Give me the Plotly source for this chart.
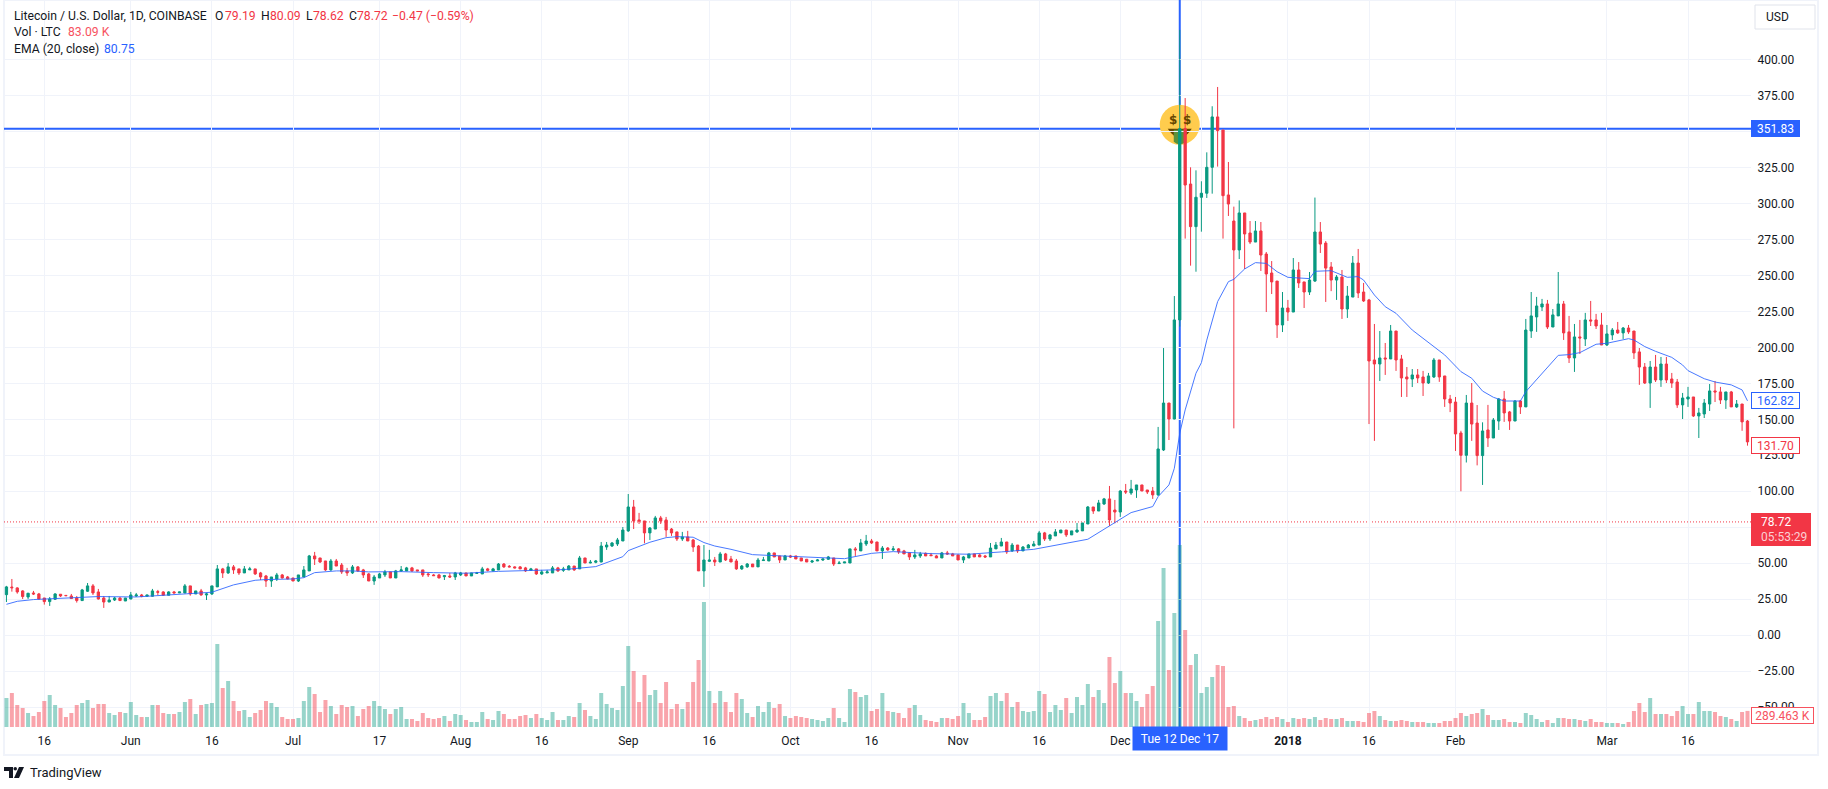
import pandas as pd
import plotly.graph_objects as go

# daily candles, 2017-05-09 -> 2018-03-27
FIRST_DAY = "2017-05-09"
OPEN = [
    28.2,33.5,32.9,30.8,26.6,29.4,28.7,25.9,23.4,25, 28.5,27.7,27.3,25.9,24.1,30.6,34.3,30.1,25.9,23.1,
    24.5,25.9,23.8,25.2,27.3,28,27.1,27.1,30.3,30.1, 27.8,30.1,29.4,29.4,34.3,28.7,30.8,28,28.7,33.6,
    46.1,43.3,47.5,46.1,43.3,45.4,46.1,43.3,41.2,37.7, 39.1,41.9,40.5,39.8,37.7,40.5,44.7,55.1,53.7,51.6,
    45.4,51.6,48.8,44.7,43.3,47.5,45.4,42.6,37.7,39.8, 41.9,44,39.8,44.7,44.7,46.8,45.4,45.4,42.6,41.9,
    41.9,40.7,41.2,40.5,41.9,43.3,41.2,43,42.6,46.1, 44.7,45.4,49.5,47.9,47.5,47.5,46.8,45.1,46.1,42.6,
    43.3,43.3,46.8,45.1,45.4,48.1,46.1,53.7,50.2,50.7, 50.9,61.3,62,63.4,65.5,72.5,89.1,80.1,79.4,71.1,
    73.8,81.5,80.1,73.8,71.8,66.9,68.3,66.2,62,44.7, 51.4,52.3,50.9,56.5,53,51.6,46.1,47.5,49.5,47.5,
    51.9,51.6,57.2,55.1,52.3,55.1,55.1,53.7,52.8,50.9, 51.6,52.3,52.8,53.7,49.8,50.2,50.2,60,58.6,63.4,
    65.5,64.8,58.6,60.6,59.3,60,58.6,57.2,54.4,55.1, 56.9,55.8,55.1,53.7,57.2,56.5,55.8,52.3,53.7,56.5,
    55.8,55.1,54.4,60,62,64.8,58.6,62.7,58.6,60.6, 62,62.7,71.1,66.9,69,71.1,73.1,69.7,71.8,72.5,
    77.3,89.1,86.3,91.2,94.7,87,85.6,100.2,98.8,100.9, 104.4,100.9,100.2,97.5,128.7,161.3,150.2,219,352,313.4,
    283.8,304.2,307,325,360,350.9,305.8,287.7,267.6,293.3, 279.4,273.1,280.8,264.8,251.6,246,215.5,227.3,224.5,253.7,
    245.4,238.4,246,280.1,272.4,255.8,246.7,248.8,226.6,234.9, 258.5,238.4,232.9,191.2,188.4,192.6,191.9,211.3,191.9,179.4,
    178,180.8,179.4,175.2,179.4,191.2,180.1,164.1,162,140.5, 125,161.3,147.4,124.8,142.6,137,148.8,164.1,155.1,148.8,
    162.7,158.6,211.3,221.1,228,230.1,214.1,221.8,230.1,210.7, 192.6,207.2,205.8,219,219,215.5,201.6,208.6,212,210,
    213.4,211.3,196.8,186.3,175.2,186.3,177.3,188.4,178,175.9, 160,164.1,165.5,152.3,153.7,160.6,169.7,169,163.4,169,
    158.6,160.6,148.8,
]
HIGH = [
    34.3,39.1,33.3,31.3,29.4,30.8,29.4,25.9,26.6,29.2, 28.5,27.8,28.7,27.3,32.2,36.3,35.6,32.2,27.3,27.3,
    26.6,26.4,25.9,30.1,29.4,28.7,28,32.2,31.5,30.6, 30.6,30.8,30.1,35.6,34.3,30.8,32.2,29.4,34.3,48.8,
    46.8,50.2,48.8,46.1,48.1,47.5,46.1,44,41.9,40.5, 43.3,42.6,41.2,39.8,41.9,48.1,55.8,57.9,53.7,51.6,
    53,53,50.2,46.8,48.8,48.1,46.1,43.3,41.9,43.3, 45.4,44,45.4,48.1,47.5,47.5,45.4,45.4,43.3,42.6,
    42.6,41.9,43.3,44,44,43.3,43.3,44,47.5,46.8, 46.8,50.2,50.2,48.8,47.9,48.1,47.5,46.8,46.1,45.4,
    45.4,48.1,47.5,47.5,48.8,48.1,55.1,53.7,52.3,52.3, 64.8,64.8,64.8,67.6,75.2,98.1,94,85,79.4,75.2,
    82.9,82.9,82.2,74.5,71.8,71.8,72.5,66.9,62.7,62.7, 59.3,54.4,57.9,57.2,55.1,53,48.8,50.2,49.5,53.7,
    54.4,57.9,57.2,55.1,55.8,55.8,55.1,53.7,53,52.3, 53,53,55.1,53.7,51.6,50.9,60,61.3,66.9,69.7,
    66.9,64.8,62,61.3,62,60.6,59.3,57.2,59.3,57.9, 57.5,57.2,55.8,57.9,58.6,57.2,55.8,55.1,56.5,56.5,
    56.5,55.8,64.1,64.8,67.6,64.8,64.1,62.7,62,63.4, 65.5,72.5,71.8,70.4,73.8,73.1,73.1,72.5,78,78,
    89.8,89.1,94,95.4,103.7,94,100.9,105.1,107.9,104.4, 104.4,100.9,103,144.7,199.5,161.3,235.6,420.4,373.1,325,
    322.9,315.3,335.4,367.4,380.8,350.9,328.7,297.7,302,293.3, 287.7,287.7,287,266.2,259.9,246,238.4,232.9,262,259.2,
    245.4,252.3,304,287,273.8,259.2,250.2,253.7,242.6,263.4, 268.3,244.7,233.6,216.2,211.3,203,215.5,211.3,194.7,186.3,
    184.9,184.9,183.6,182.2,192.6,191.2,180.1,166.9,165.5,142, 166.9,175.2,159.9,147.9,160,150.9,164.8,169.7,155.8,163.4,
    163.4,219.7,238.4,235,233.6,232.9,226.6,252.3,232.2,221.8, 216.2,219,223.9,232.2,223.2,223.9,215.5,213.4,217.6,214.1,
    215.5,211.3,199.5,189.1,190.5,194.7,193.3,193.3,182.2,178, 168.3,172.5,165.5,157.9,164.1,174.5,176.6,172.5,169,169.7,
    163.4,160.6,149.5,
]
LOW = [
    23.1,30.3,28.9,25.2,25.2,28,24.8,21.3,20.4,24.5, 26.6,27.3,25.2,22.7,23.8,30.1,28,24.8,19,23.1,
    23.8,23.8,23.8,25,26.6,26.4,27,26.9,27.8,27.5, 27.8,29.2,29.4,29.2,27.5,28.7,27.5,24.5,28,33.6,
    39.8,42.6,42.6,41.9,43.3,45.4,41.9,38.4,33.6,33.6, 37.7,39.4,38.9,37.7,37,40.5,44.7,48.8,50.2,44.7,
    44.7,48.1,42.6,41.2,42.6,44,39.8,37.7,35,39.8, 40.5,39.8,39.8,44,44.7,44,44.7,40.5,40.5,41.2,
    39.6,38.4,39.8,38.4,41.2,41.2,41.2,43,42.6,44.4, 44.7,45.4,46.8,47.2,46.5,46.1,44,45.1,41.9,41.9,
    43.3,43.3,44,44,45.4,44.7,46.1,50.2,50,50, 50.7,59.3,61.3,62,65.5,71.8,73.8,77.3,63.9,66.2,
    73.8,77.3,68.3,69,65.5,65.5,65.5,57.9,44.7,33.6, 50.9,48.1,50.9,51.6,50.9,45.4,45.4,46.8,47.5,47.5,
    51.6,51.6,54.4,50.2,52.3,53.7,53,51.6,50.9,50.2, 51.6,51.6,52.3,48.1,49.5,50.2,50.2,55.1,58.6,62,
    63.4,58.6,53,58.6,58.6,56.5,56.5,52.3,53,53.7, 55.1,55.1,53.7,53.7,55.8,55.1,52.3,50.2,53.7,54.4,
    54.4,53.7,54.4,60,62,56.5,57.9,57.2,58.6,60.6, 62,62.7,65.5,65.5,69,71.1,68.3,69.7,71.1,72.5,
    77.3,84.3,86.3,90.5,75.9,77.8,82.2,98.1,97.5,95.4, 100.2,98.1,94.7,96.8,128,135.6,150,214.4,275.5,256.7,
    252.5,280.3,303.7,306.7,325.5,275.5,291.2,143.7,261.3,254.4, 271.7,273.1,253,224.5,237,206.5,210.6,218.3,224.5,241.2,
    227.3,236.3,245.4,265.5,231.5,239,232.9,219.7,220.4,234.9, 234.2,231.5,146.7,135,176.6,180.8,191.9,183.6,165.5,165.5,
    172.4,175.2,166.2,174.5,178.7,176,158.6,155,128,100, 120,135,118,104.4,130.8,137,142.6,148.2,142.6,148.8,
    153.7,158.6,206.5,210.7,225.2,212.7,214.1,221.8,205.1,189.1, 182.9,195.4,200.9,214.8,212.7,201.6,200.9,205.1,209.3,205.8,
    209.3,191.9,173.9,174.5,157.9,175.9,172.5,175.2,171.8,157.9, 150.2,158.6,151.6,137,150.9,155.8,162,160.6,157.2,158.6,
    157.9,142,131.7,
]
CLOSE = [
    33.6,33,30.1,26.9,29.2,28.7,25.2,23.4,25.2,28.7, 27.3,27.5,25.5,24.1,31.5,34.3,29.4,25.2,23.1,24.5,
    25.9,24.1,25.9,28,28,27.1,28,30.8,29.9,27.8, 30.1,29.4,30.1,34.3,28.7,30.8,28,28.7,34.3,46.1,
    43.3,47.5,45.4,43.3,46.1,46.1,42.6,40.5,37.7,40.5, 41.9,39.8,39.1,37.7,41.9,45.4,55.1,53,50.9,45.4,
    51.6,48.1,44,43.3,47.5,44.7,41.9,37.7,40.5,42.6, 44,39.8,44.7,45.4,46.8,44.7,44.7,41.9,42.1,41.4,
    39.8,41.4,40.5,43.3,43.3,41.2,43.3,43.3,46.1,45.1, 46.1,49.5,47.5,47.5,46.8,46.1,44.7,46.1,42.6,44,
    44,46.8,44.7,46.1,48.1,45.4,53.7,50.2,50.7,51.6, 62,62.7,64.1,66.2,73.1,89.1,79.4,79.4,71.1,74.5,
    81.5,79.4,73.1,71.1,66.9,68.3,65.5,61.3,44.7,52.3, 52.3,50.9,56.5,52.3,50.9,46.1,48.1,49.5,47.5,52.3,
    52.3,57.2,54.4,52.3,55.1,54.4,53,51.6,50.9,51.6, 52.3,53,54.4,49.5,50.2,50.9,60,59.3,64.1,65.5,
    64.1,58.6,60.6,59.3,60,57.9,56.5,54.4,55.8,56.5, 55.1,55.3,53.7,57.2,56.5,55.1,52.3,54.4,56.5,54.4,
    54.4,54.4,60.6,62.7,64.8,57.9,62.7,58.6,61.3,62.7, 63.4,71.1,66.9,69.7,71.8,73.1,69.7,72.5,73.1,78,
    89.1,86.3,91.9,94.7,80.1,85.6,100.2,99.5,101.6,104.4, 100.2,99.5,97.5,129.4,161.3,150.2,219,351.83,312.7,283.8,
    304.2,307,325,360,350.5,305.3,299.5,267.6,293.3,278.7, 273.1,280.8,264.1,250.9,245.4,215.5,227.3,224.5,253.7,244.7,
    238.4,246.7,280.1,271.7,255,246.7,248.8,226.6,235.6,258.5, 237.7,232.2,190.5,188.4,192.6,191.9,211.3,191.2,178.7,178,
    180.8,178.7,175.2,180.1,191.2,179.4,164.1,161.3,139.8,125, 161.3,146.7,124.8,141.9,137,149.5,164.1,154.4,148.8,162.7,
    158.6,212,221.8,228.7,230.1,214.1,222.5,230.1,210,192.6, 207.2,206.5,219,218.3,214.8,201.6,209.3,212,210,213.4,
    210.7,196.1,186.3,175.2,186.3,177.3,188.4,177.3,175.2,160, 164.8,165.5,152.3,154.4,161.3,169.7,169,163.4,169,158.6,
    160.6,148.2,134.3,
]
VOLUME_K = [
    522,612,396,342,252,198,270,468,576,396, 342,180,252,396,432,486,342,414,414,252,
    216,270,252,450,216,180,180,396,396,252, 234,234,270,450,504,234,396,414,432,1494,
    702,828,468,288,306,180,252,306,468,432, 360,180,144,144,162,468,720,594,270,486,
    378,234,396,360,378,198,324,378,468,378, 324,234,324,360,144,144,108,252,162,144,
    162,198,108,234,216,126,90,90,270,144, 126,288,234,144,144,198,216,162,234,162,
    126,270,126,126,198,180,432,306,198,144, 612,414,342,306,738,1458,1008,450,936,576,
    666,432,810,324,414,324,450,810,1206,2250, 648,432,648,450,270,612,504,252,180,378,
    270,450,342,414,198,162,198,180,162,144, 126,108,162,342,162,90,684,630,540,576,
    288,324,612,288,270,252,162,342,396,216, 126,108,90,162,162,144,198,432,252,126,
    126,180,558,612,468,612,360,450,288,270, 288,648,594,270,396,306,522,252,540,396,
    774,540,666,432,1260,792,1008,612,612,468, 360,594,738,1908,2862,1026,2052,3276,1746,1116,
    1314,612,720,900,1116,1098,360,378,198,162, 108,126,144,180,144,180,144,90,162,144,
    162,144,180,126,162,144,144,162,108,108, 108,90,252,288,198,126,108,108,126,108,
    90,90,90,72,72,72,108,108,162,252, 198,234,252,324,216,126,126,144,90,90,
    72,252,216,144,90,126,72,162,162,144, 144,126,108,144,90,90,72,72,72,54,
    90,288,432,270,522,234,234,234,198,288, 378,234,234,450,288,288,270,198,180,144,
    108,270,289.463,
]

EMA_DATES = [
    "2017-05-09","2017-05-11","2017-05-14","2017-05-17","2017-05-20","2017-05-23","2017-05-26","2017-06-02",
    "2017-06-05","2017-06-09","2017-06-16","2017-06-20","2017-06-24","2017-06-26","2017-07-01","2017-07-03",
    "2017-07-05","2017-07-09","2017-07-12","2017-07-15","2017-07-21","2017-07-27","2017-08-02","2017-08-08",
    "2017-08-14","2017-08-20","2017-08-26","2017-08-31","2017-09-01","2017-09-05","2017-09-08","2017-09-10",
    "2017-09-13","2017-09-15","2017-09-17","2017-09-20","2017-09-24","2017-09-30","2017-10-05","2017-10-11",
    "2017-10-16","2017-10-20","2017-10-27","2017-11-03","2017-11-09","2017-11-15","2017-11-25","2017-11-29",
    "2017-11-30","2017-12-03","2017-12-07","2017-12-08","2017-12-10","2017-12-11","2017-12-12","2017-12-13",
    "2017-12-15","2017-12-16","2017-12-17","2017-12-19","2017-12-21","2017-12-22","2017-12-24","2017-12-26",
    "2017-12-28","2017-12-30","2018-01-01","2018-01-05","2018-01-06","2018-01-09","2018-01-12","2018-01-14",
    "2018-01-15","2018-01-17","2018-01-19","2018-01-21","2018-01-24","2018-01-27","2018-01-30","2018-02-02",
    "2018-02-04","2018-02-06","2018-02-08","2018-02-10","2018-02-13","2018-02-14","2018-02-17","2018-02-19",
    "2018-02-20","2018-02-22","2018-02-24","2018-02-27","2018-03-01","2018-03-05","2018-03-06","2018-03-08",
    "2018-03-10","2018-03-13","2018-03-15","2018-03-16","2018-03-19","2018-03-21","2018-03-24","2018-03-26",
    "2018-03-27",
]
EMA_VALUES = [
    21.5,23.6,24.8,25.2,25.7,26.4,26.9,26.6,
    27.3,28.5,29.9,35,38.2,38.7,39.1,40,
    43.5,44.7,44.7,44,44.2,43.5,43.1,44.4,
    45.1,45.6,47.7,54.6,58.8,64.6,67.8,68.5,
    68.1,64.4,62,59.7,56,55.1,54.4,53.2,
    56.9,58.1,56.7,56.3,57.9,59.7,66.7,75.9,
    77.8,85.2,89.4,96.3,104.4,116,140.3,156.5,
    182,189.3,205,231.7,245.6,247.2,254.4,258.8,
    258.3,252.5,248.6,247.7,252.8,253.2,248.6,249.1,
    246.7,236.3,228.2,223.6,212,203.2,194.7,183.1,
    178.5,169.6,165.3,162.7,162.7,169.2,181.9,190,
    194.4,194.9,196.3,202.1,202.8,206,205.1,200.5,
    197.2,193,187.7,183.8,178.2,175.9,173.9,170.4,
    162.82,
]

PRICE_TICKS = [-50,-25,0,25,50,75,100,125,150,175,200,225,250,275,300,325,350,375,400]
TIME_TICKS = ["2017-05-16","2017-06-01","2017-06-16","2017-07-01","2017-07-17","2017-08-01","2017-08-16",
              "2017-09-01","2017-09-16","2017-10-01","2017-10-16","2017-11-01","2017-11-16","2017-12-01",
              "2017-12-16","2018-01-01","2018-01-16","2018-02-01","2018-03-01","2018-03-16"]
TIME_LABELS = ["16","Jun","16","Jul","17","Aug","16","Sep","16","Oct","16","Nov","16","Dec",
               "","<b>2018</b>","16","Feb","Mar","16"]

CROSS_DATE = "2017-12-12"
CROSS_PRICE = 351.83
LAST_PRICE = 78.72
LAST_EMA = 162.82
LAST_CLOSE = 131.70

GREEN = "#089981"
RED = "#F23645"
BLUE = "#2962FF"
GRID = "#F0F3FA"
TEXT = "#131722"
FONT = "Roboto"

# plot area in page pixels
LEFT, RIGHT, BOTTOM = 4, 1751, 727
X_START, X_END = "2017-05-08 13:07", "2018-03-27 15:36"
Y_RANGE = [-63.7, 441.2]

days = pd.date_range(FIRST_DAY, periods=len(CLOSE))
vol_colors = ["rgba(8,153,129,0.42)" if c >= o else "rgba(242,54,69,0.45)" for o, c in zip(OPEN, CLOSE)]


def xp(px):
    return (px - LEFT) / (RIGHT - LEFT)


def yp(py):
    return 1 - py / BOTTOM


def text_at(px, py, text, color=TEXT, size=12.2, anchor="left"):
    return dict(xref="paper", yref="paper", x=xp(px), y=yp(py), text=text, showarrow=False,
                xanchor=anchor, yanchor="middle", font=dict(family=FONT, size=size, color=color))


def price_box(value, text, fill, line, color):
    return dict(xref="paper", yref="y", x=1, y=value, text=text, showarrow=False, xanchor="left", yanchor="middle",
                width=47, height=15, bgcolor=fill, bordercolor=line, borderwidth=1, borderpad=0, align="center",
                font=dict(family=FONT, size=12, color=color))


fig = go.Figure()
fig.add_trace(go.Candlestick(x=days, open=OPEN, high=HIGH, low=LOW, close=CLOSE, whiskerwidth=0,
                             increasing=dict(line=dict(color=GREEN, width=1), fillcolor=GREEN),
                             decreasing=dict(line=dict(color=RED, width=1), fillcolor=RED),
                             hoverinfo="skip", showlegend=False))
fig.add_trace(go.Scatter(x=EMA_DATES, y=EMA_VALUES, mode="lines", line=dict(color=BLUE, width=1),
                         opacity=0.85, hoverinfo="skip", showlegend=False))
fig.add_trace(go.Bar(x=days, y=VOLUME_K, yaxis="y2", marker=dict(color=vol_colors, line=dict(width=0)),
                     hoverinfo="skip", showlegend=False))

shapes = [
    # outer frame of the widget
    dict(type="rect", xref="paper", yref="paper", x0=xp(4), x1=xp(1818), y0=yp(0), y1=yp(755),
         line=dict(color=GRID, width=2), layer="below"),
    dict(type="line", xref="x", yref="y", x0=X_START, x1=X_END, y0=LAST_PRICE, y1=LAST_PRICE,
         line=dict(color=RED, width=1, dash="1px,2px"), layer="below"),
    dict(type="line", xref="x", yref="y", x0=X_START, x1=X_END, y0=CROSS_PRICE, y1=CROSS_PRICE,
         line=dict(color=BLUE, width=2), layer="below"),
    dict(type="line", xref="x", yref="y", x0=CROSS_DATE, x1=CROSS_DATE, y0=Y_RANGE[0], y1=Y_RANGE[1],
         line=dict(color=BLUE, width=2), layer="below"),
]
# money mouth sticker on the crosshair
sticker = dict(xref="x", yref="y", xsizemode="pixel", ysizemode="pixel", xanchor=CROSS_DATE, yanchor=CROSS_PRICE,
               layer="below")
shapes.append(dict(type="circle", x0=-20, x1=20, y0=-16, y1=24, fillcolor="#FFCC4D",
                   line=dict(width=0), **sticker))
shapes.append(dict(type="path", path="M -12 0 Q 0 -18 12 0 Z", fillcolor="#664500", line=dict(width=0), **sticker))
shapes.append(dict(type="path", path="M -6 -1 L 6 -1 L 6 -13 Q 0 -18 -6 -13 Z", fillcolor="#5C913B",
                   line=dict(width=0), **sticker))
# usd button
shapes.append(dict(type="rect", xref="paper", yref="paper", x0=xp(1755), x1=xp(1815), y0=yp(5), y1=yp(29),
                   line=dict(color="#E0E3EB", width=1), fillcolor="white", layer="above"))
# last price flag
shapes.append(dict(type="rect", xref="paper", yref="paper", x0=xp(1751), x1=xp(1811), y0=yp(513), y1=yp(546),
                   line=dict(width=0), fillcolor=RED, layer="above"))
# logo mark
shapes.append(dict(type="path", xref="paper", yref="paper", fillcolor=TEXT, line=dict(width=0),
                   path=f"M {xp(4)} {yp(767)} L {xp(13)} {yp(767)} L {xp(13)} {yp(778)} L {xp(9)} {yp(778)} "
                        f"L {xp(9)} {yp(771)} L {xp(4)} {yp(771)} Z"))
shapes.append(dict(type="circle", xref="paper", yref="paper", fillcolor=TEXT, line=dict(width=0),
                   x0=xp(13.5), x1=xp(17), y0=yp(767), y1=yp(770.5)))
shapes.append(dict(type="path", xref="paper", yref="paper", fillcolor=TEXT, line=dict(width=0),
                   path=f"M {xp(19)} {yp(767)} L {xp(24)} {yp(767)} L {xp(19)} {yp(778)} L {xp(14)} {yp(778)} Z"))

annotations = [
    text_at(12, 15.5, "Litecoin / U.S. Dollar, 1D, COINBASE"),
    text_at(213, 15.5, "O"), text_at(223, 15.5, "79.19", RED),
    text_at(259, 15.5, "H"), text_at(268, 15.5, "80.09", RED),
    text_at(304, 15.5, "L"), text_at(311, 15.5, "78.62", RED),
    text_at(347, 15.5, "C"), text_at(355, 15.5, "78.72", RED),
    text_at(390, 15.5, "−0.47 (−0.59%)", RED),
    text_at(12, 32, "Vol · LTC"), text_at(66, 32, "83.09 K", "#F7525F"),
    text_at(12, 49, "EMA (20, close)"), text_at(102, 49, "80.75", BLUE),
    text_at(1764, 17, "USD", size=12),
    price_box(CROSS_PRICE, f"{CROSS_PRICE:.2f}", BLUE, BLUE, "white"),
    price_box(LAST_EMA, f"{LAST_EMA:.2f}", "white", BLUE, BLUE),
    price_box(LAST_CLOSE, f"{LAST_CLOSE:.2f}", "white", RED, RED),
    text_at(1759, 522, f"{LAST_PRICE:.2f}", "white", 12),
    text_at(1759, 537, "05:53:29", "#FBD0D4", 12),
    dict(xref="paper", yref="paper", x=1, y=yp(715.5), text=f"{VOLUME_K[-1]:.3f} K", showarrow=False,
         xanchor="left", yanchor="middle", width=61, height=15, bgcolor="white", bordercolor="#F7525F",
         borderwidth=1, borderpad=0, align="center", font=dict(family=FONT, size=12, color="#F7525F")),
    dict(xref="x", yref="paper", x=CROSS_DATE, y=yp(738.5), text="Tue 12 Dec '17", showarrow=False,
         xanchor="center", yanchor="middle", width=94, height=23, bgcolor=BLUE, borderpad=0,
         font=dict(family=FONT, size=12, color="white")),
    text_at(28, 772, "TradingView", TEXT, 13),
]

fig.update_layout(
    width=1828, height=789,
    margin=dict(l=LEFT, r=1828 - RIGHT, t=0, b=789 - BOTTOM, pad=0),
    paper_bgcolor="white", plot_bgcolor="white",
    showlegend=False, bargap=0.26, boxgap=0.4, hovermode=False,
    font=dict(family=FONT, size=12, color=TEXT),
    shapes=shapes, annotations=annotations,
    xaxis=dict(type="date", range=[X_START, X_END], rangeslider=dict(visible=False),
               tickmode="array", tickvals=TIME_TICKS, ticktext=TIME_LABELS, showgrid=True, gridcolor=GRID, gridwidth=1,
               ticks="outside", ticklen=3, tickcolor="white", zeroline=False, showline=False,
               tickfont=dict(family=FONT, size=12, color=TEXT)),
    yaxis=dict(side="right", range=Y_RANGE, tickmode="array", tickvals=PRICE_TICKS, tickformat=".2f",
               showgrid=True, gridcolor=GRID, gridwidth=1, zeroline=False, showline=False,
               ticks="outside", ticklen=3, tickcolor="white", tickfont=dict(family=FONT, size=12, color=TEXT)),
    yaxis2=dict(overlaying="y", side="right", range=[0, 13086], visible=False, showgrid=False),
)

# sticker eyes and tongue mark sit on top as real text
fig.add_annotation(xref="x", yref="y", x=CROSS_DATE, y=CROSS_PRICE, xshift=-7, yshift=9, text="<b>$</b>", showarrow=False,
                   font=dict(family="DejaVu Sans", size=12, color="#664500"))
fig.add_annotation(xref="x", yref="y", x=CROSS_DATE, y=CROSS_PRICE, xshift=7, yshift=9, text="<b>$</b>", showarrow=False,
                   font=dict(family="DejaVu Sans", size=12, color="#664500"))

# page margin off so the chart sits at the window corner, no modebar
fig.write_html("out.html", post_script="document.body.style.margin='0';", config={"displayModeBar": False})
